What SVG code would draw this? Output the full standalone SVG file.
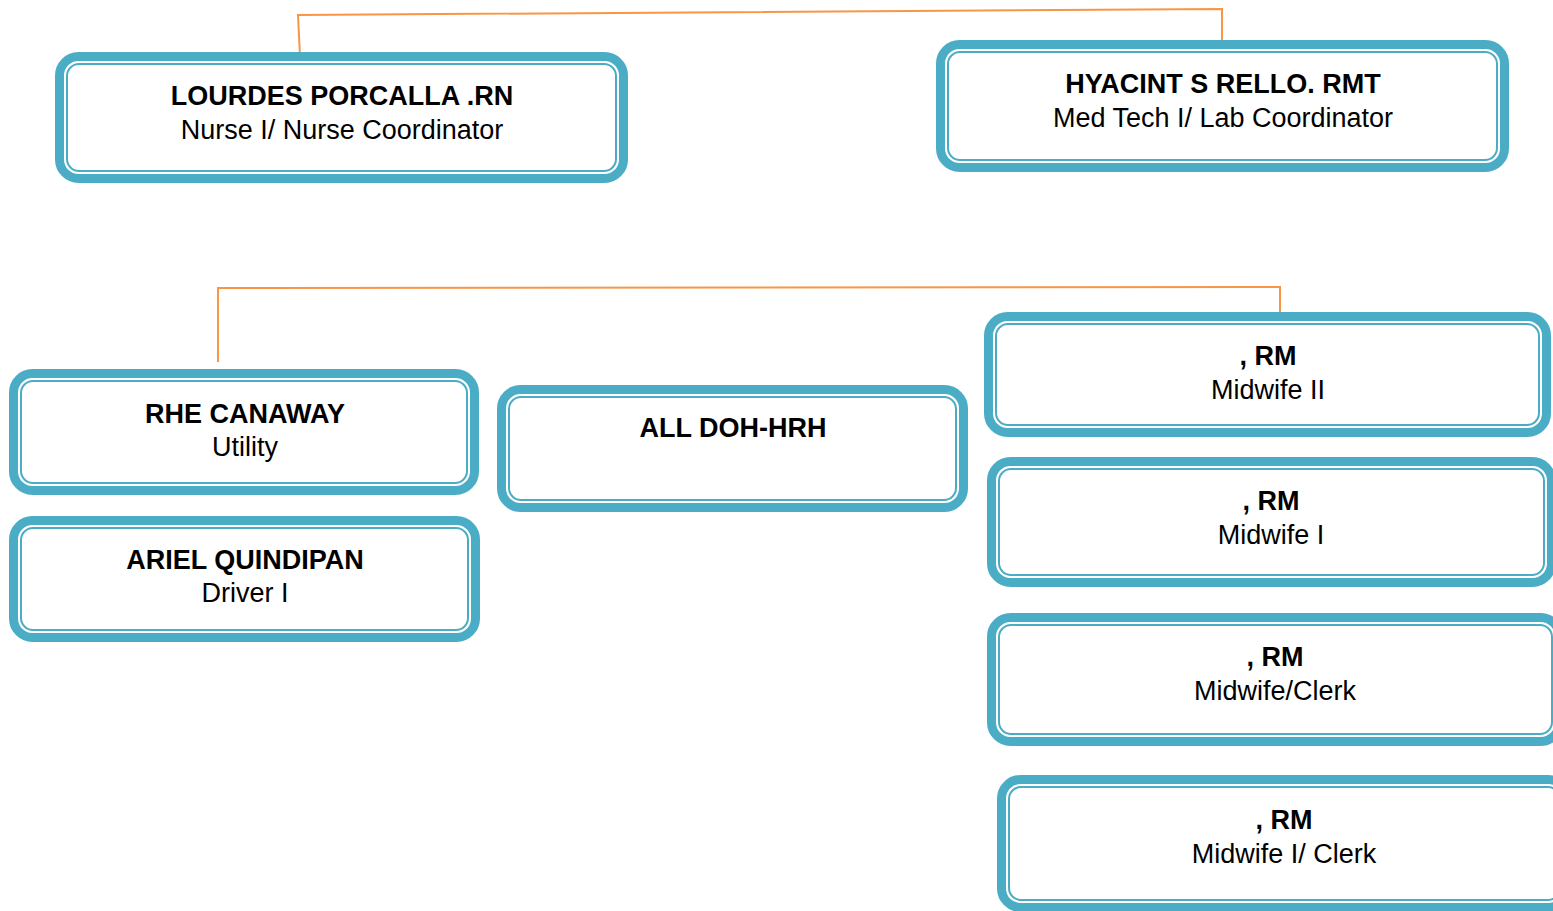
<svg xmlns="http://www.w3.org/2000/svg" width="1553" height="911" viewBox="0 0 1553 911">
  <style>
    .outer { fill: #ffffff; stroke: #4BACC6; stroke-width: 9; }
    .inner { fill: none; stroke: #4BACC6; stroke-width: 2; }
    .name { font-family: "Liberation Sans", Arial, sans-serif; font-size: 27px; font-weight: bold; fill: #000000; text-anchor: middle; }
    .role { font-family: "Liberation Sans", Arial, sans-serif; font-size: 27px; fill: #000000; text-anchor: middle; }
    .link { fill: none; stroke: #F79646; stroke-width: 2; }
  </style>
  <rect width="1553" height="911" fill="#ffffff"/>

  <!-- connectors -->
  <g id="connectors">
    <polyline class="link" points="300,56 298,15 1222,9 1222,44"/>
    <polyline class="link" points="218,362 218,288 1280,287 1280,318"/>
  </g>

  <!-- nodes: each box is a thick rounded frame with a thin inner rule -->
  <g id="node-porcalla">
    <rect class="outer" x="59.5" y="56.5" width="564" height="122" rx="19"/>
    <rect class="inner" x="67" y="64" width="549" height="107" rx="12"/>
    <text class="name" x="342" y="105">LOURDES PORCALLA .RN</text>
    <text class="role" x="342" y="139">Nurse I/ Nurse Coordinator</text>
  </g>

  <g id="node-rello">
    <rect class="outer" x="940.5" y="44.5" width="564" height="123" rx="19"/>
    <rect class="inner" x="948" y="52" width="549" height="108" rx="12"/>
    <text class="name" x="1223" y="93">HYACINT S RELLO. RMT</text>
    <text class="role" x="1223" y="127">Med Tech I/ Lab Coordinator</text>
  </g>

  <g id="node-canaway">
    <rect class="outer" x="13.5" y="373.5" width="461" height="117" rx="19"/>
    <rect class="inner" x="21" y="381" width="446" height="102" rx="12"/>
    <text class="name" x="245" y="423">RHE CANAWAY</text>
    <text class="role" x="245" y="456">Utility</text>
  </g>

  <g id="node-quindipan">
    <rect class="outer" x="13.5" y="520.5" width="462" height="117" rx="19"/>
    <rect class="inner" x="21" y="528" width="447" height="102" rx="12"/>
    <text class="name" x="245" y="569">ARIEL QUINDIPAN</text>
    <text class="role" x="245" y="602">Driver I</text>
  </g>

  <g id="node-doh-hrh">
    <rect class="outer" x="501.5" y="389.5" width="462" height="118" rx="19"/>
    <rect class="inner" x="509" y="397" width="447" height="103" rx="12"/>
    <text class="name" x="733" y="437">ALL DOH-HRH</text>
  </g>

  <g id="node-midwife-2">
    <rect class="outer" x="988.5" y="316.5" width="558" height="116" rx="19"/>
    <rect class="inner" x="996" y="324" width="543" height="101" rx="12"/>
    <text class="name" x="1268" y="365">, RM</text>
    <text class="role" x="1268" y="399">Midwife II</text>
  </g>

  <g id="node-midwife-1">
    <rect class="outer" x="991.5" y="461.5" width="560" height="121" rx="19"/>
    <rect class="inner" x="999" y="469" width="545" height="106" rx="12"/>
    <text class="name" x="1271" y="510">, RM</text>
    <text class="role" x="1271" y="544">Midwife I</text>
  </g>

  <g id="node-midwife-clerk">
    <rect class="outer" x="991.5" y="617.5" width="568" height="124" rx="19"/>
    <rect class="inner" x="999" y="625" width="553" height="109" rx="12"/>
    <text class="name" x="1275" y="666">, RM</text>
    <text class="role" x="1275" y="700">Midwife/Clerk</text>
  </g>

  <g id="node-midwife-1-clerk">
    <rect class="outer" x="1001.5" y="779.5" width="566" height="128" rx="19"/>
    <rect class="inner" x="1009" y="787" width="551" height="113" rx="12"/>
    <text class="name" x="1284" y="829">, RM</text>
    <text class="role" x="1284" y="863">Midwife I/ Clerk</text>
  </g>
</svg>
